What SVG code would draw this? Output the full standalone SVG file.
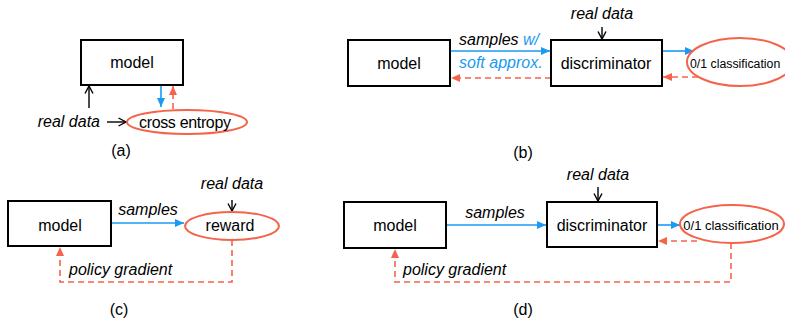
<svg xmlns="http://www.w3.org/2000/svg" width="785" height="320" viewBox="0 0 785 320">
<style>
text{font-family:"Liberation Sans",Arial,sans-serif;fill:#000;}
.lbl{font-size:16px;text-anchor:middle;}
.it{font-size:16px;font-style:italic;}
.sm{font-size:13px;}
.box{fill:#fff;stroke:#000;stroke-width:2;}
.ell{fill:#fff;stroke:#F5634A;stroke-width:2;}
.blue{stroke:#1A9AF0;stroke-width:1.6;fill:none;marker-end:url(#ab);}
.red{stroke:#F5634A;stroke-width:1.6;fill:none;stroke-dasharray:6 4;marker-end:url(#ar);}
.blk{stroke:#000;stroke-width:1.4;fill:none;marker-end:url(#ak);}
</style>
<defs>
<marker id="ab" markerUnits="userSpaceOnUse" markerWidth="10" markerHeight="10" refX="9" refY="5" orient="auto"><path d="M0,1 L9,5 L0,9 Z" fill="#1A9AF0"/></marker>
<marker id="ar" markerUnits="userSpaceOnUse" markerWidth="10" markerHeight="10" refX="9" refY="5" orient="auto"><path d="M0,1 L9,5 L0,9 Z" fill="#F5634A"/></marker>
<marker id="ak" markerUnits="userSpaceOnUse" markerWidth="10" markerHeight="10" refX="8.5" refY="5" orient="auto"><path d="M1,1 L8.5,5 L1,9" fill="none" stroke="#000" stroke-width="1.4"/></marker>
</defs>

<g id="connectors">
<!-- (a) -->
<line class="blk" x1="89" y1="108" x2="89" y2="86"/>
<line class="blk" x1="107" y1="122" x2="126" y2="122"/>
<line class="blue" x1="161" y1="85" x2="161" y2="107"/>
<line class="red" x1="173" y1="109" x2="173" y2="86"/>
<!-- (b) -->
<line class="blk" x1="602" y1="27" x2="602" y2="39"/>
<line class="blue" x1="450" y1="51" x2="550" y2="51"/>
<line class="red" x1="551" y1="78" x2="451" y2="78"/>
<line class="blue" x1="662" y1="51" x2="694" y2="51"/>
<line class="red" x1="698" y1="77" x2="663" y2="77"/>
<!-- (c) -->
<line class="blk" x1="232" y1="200" x2="232" y2="211"/>
<line class="blue" x1="111" y1="223" x2="184" y2="223"/>
<polyline class="red" points="232,240 232,282 60,282 60,247"/>
<!-- (d) -->
<line class="blk" x1="598" y1="187" x2="598" y2="201"/>
<line class="blue" x1="446" y1="225" x2="546" y2="225"/>
<line class="blue" x1="657" y1="225" x2="680" y2="225"/>
<line class="red" x1="697" y1="241" x2="658" y2="241"/>
<polyline class="red" points="731,243 731,282 395,282 395,249"/>
</g>

<g id="a-model"><rect class="box" x="81" y="40" width="102" height="45"/><text class="lbl" x="132" y="68">model</text></g>
<g id="a-realdata"><text class="it" x="100" y="127" text-anchor="end">real data</text></g>
<g id="a-crossentropy"><ellipse class="ell" cx="187" cy="122" rx="60" ry="12"/><text class="lbl" x="185" y="128" textLength="92">cross entropy</text></g>
<g id="a-caption"><text class="lbl" x="121" y="156">(a)</text></g>

<g id="b-model"><rect class="box" x="348" y="40" width="102" height="46"/><text class="lbl" x="399" y="69">model</text></g>
<g id="b-disc"><rect class="box" x="551" y="40" width="111" height="46"/><text class="lbl" x="606" y="69">discriminator</text></g>
<g id="b-realdata"><text class="it" x="602" y="19" text-anchor="middle">real data</text></g>
<g id="b-samples"><text class="it" x="459" y="45">samples <tspan fill="#1A9AF0" style="fill:#1A9AF0">w/</tspan></text><text class="it" x="459" y="68" style="fill:#1A9AF0">soft approx.</text></g>
<g id="b-class"><ellipse class="ell" cx="740" cy="62" rx="53" ry="24"/><text x="690" y="67.5" style="font-size:12.3px">0/1 classification</text></g>
<g id="b-caption"><text class="lbl" x="523" y="158">(b)</text></g>

<g id="c-model"><rect class="box" x="8" y="201" width="103" height="45"/><text class="lbl" x="60" y="231">model</text></g>
<g id="c-reward"><ellipse class="ell" cx="232" cy="226" rx="47" ry="14"/><text class="lbl" x="230" y="231">reward</text></g>
<g id="c-realdata"><text class="it" x="232" y="189" text-anchor="middle">real data</text></g>
<g id="c-samples"><text class="it" x="148" y="215" text-anchor="middle">samples</text></g>
<g id="c-pg"><text class="it" x="69" y="275">policy gradient</text></g>
<g id="c-caption"><text class="lbl" x="119" y="315">(c)</text></g>

<g id="d-model"><rect class="box" x="344" y="202" width="102" height="46"/><text class="lbl" x="395" y="231">model</text></g>
<g id="d-disc"><rect class="box" x="547" y="202" width="110" height="45"/><text class="lbl" x="602" y="231">discriminator</text></g>
<g id="d-realdata"><text class="it" x="598" y="180" text-anchor="middle">real data</text></g>
<g id="d-samples"><text class="it" x="495" y="218" text-anchor="middle">samples</text></g>
<g id="d-class"><ellipse class="ell" cx="732" cy="224" rx="52" ry="19"/><text class="sm" x="731" y="230" text-anchor="middle">0/1 classification</text></g>
<g id="d-pg"><text class="it" x="403" y="275">policy gradient</text></g>
<g id="d-caption"><text class="lbl" x="523" y="315">(d)</text></g>
</svg>
